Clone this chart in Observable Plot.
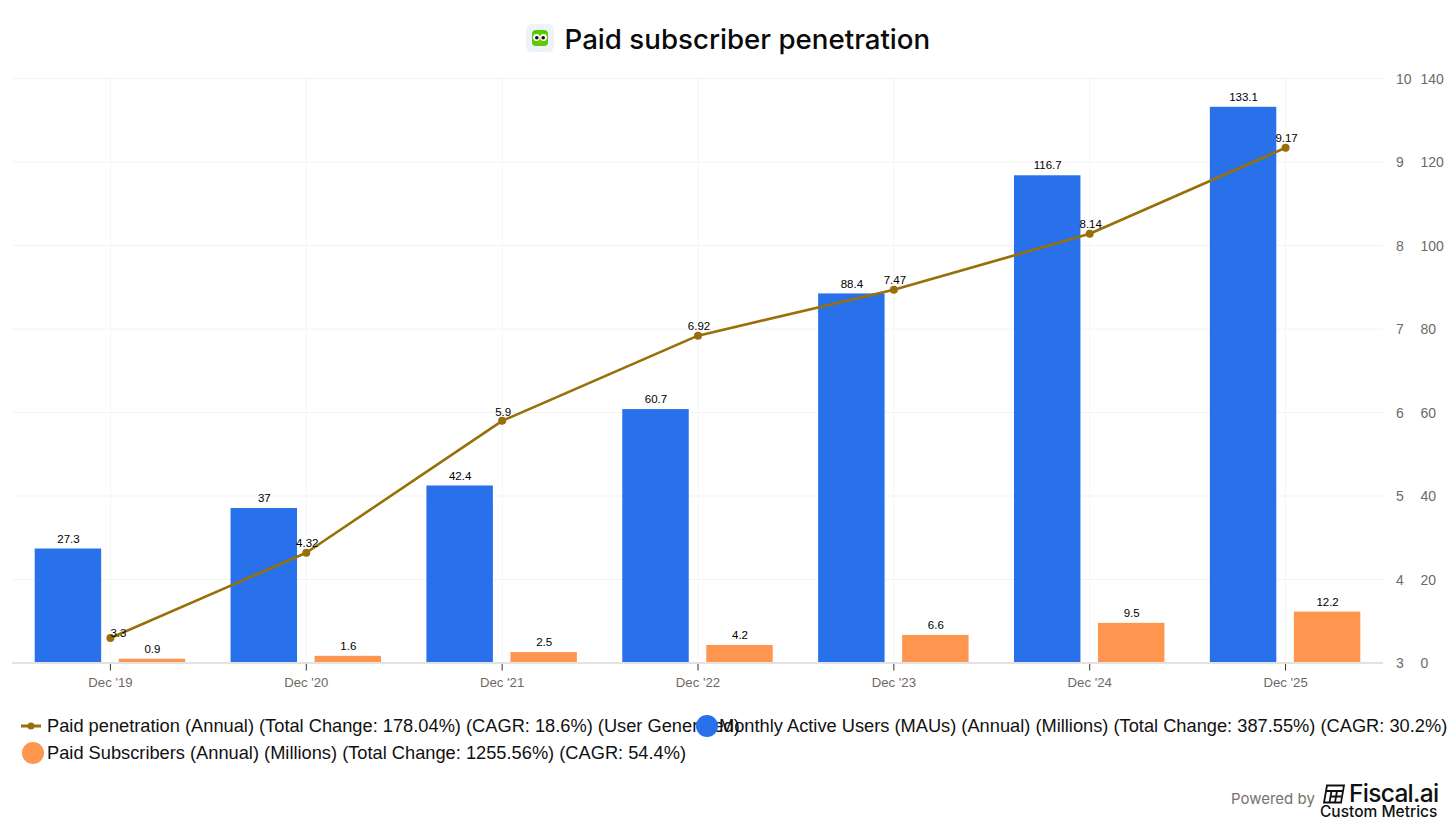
<!DOCTYPE html>
<html>
<head>
<meta charset="utf-8">
<script src="https://cdn.jsdelivr.net/npm/d3@7"></script>
<script src="https://cdn.jsdelivr.net/npm/@observablehq/plot@0.6"></script>
<style>
  html, body { margin: 0; padding: 0; background: #fff; }
  body { width: 1456px; height: 819px; position: relative; overflow: hidden; font-family: "Liberation Sans", Arial, sans-serif; }
  #head { height: 60px; position: relative; }
  #icon { position: absolute; left: 526px; top: 24px; }
  #title { position: absolute; left: 564.5px; top: 21px; font: 500 27.7px/36px Inter, sans-serif; color: #0a0a0a; white-space: nowrap; }
  #chart svg { display: block; }
  .lg { position: absolute; font-size: 18.25px; line-height: 22px; color: #111; white-space: nowrap; }
  .sw { position: absolute; border-radius: 50%; width: 22px; height: 22px; }
  #pw { position: absolute; left: 1231px; top: 790px; font: 15px/18px Inter, sans-serif; color: #77716b; white-space: nowrap; }
  #fi { position: absolute; left: 1349px; top: 782px; font: 500 24.5px/22px Inter, sans-serif; color: #111; white-space: nowrap; letter-spacing: -0.7px; }
  #cm { position: absolute; left: 1320px; top: 804px; font: 500 15.5px/15px Inter, sans-serif; color: #111; white-space: nowrap; }
  #logo { position: absolute; left: 1322px; top: 784px; }
</style>
</head>
<body>
<div id="head">
  <svg id="icon" width="28" height="28" viewBox="0 0 28 28">
    <rect width="28" height="28" rx="6" fill="#eef2fa"/>
    <rect x="6" y="6" width="16" height="16" rx="4" fill="#58cc02"/>
    <circle cx="10.5" cy="13.5" r="3.4" fill="#fff"/><circle cx="17.5" cy="13.5" r="3.4" fill="#fff"/>
    <circle cx="10.8" cy="13.8" r="1.8" fill="#111"/><circle cx="17.2" cy="13.8" r="1.8" fill="#111"/>
    <path d="M12.5 17h3l-1.5 2.4z" fill="#f49000"/>
  </svg>
  <div id="title">Paid subscriber penetration</div>
</div>
<div id="chart"></div>

<svg style="position:absolute;left:21px;top:716px" width="22" height="20" viewBox="0 0 22 20">
  <line x1="0" x2="20" y1="10" y2="10" stroke="#97700a" stroke-width="3"/><circle cx="10" cy="10" r="3.5" fill="#97700a"/>
</svg>
<div class="lg" style="left:47px;top:715px">Paid penetration (Annual) (Total Change: 178.04%) (CAGR: 18.6%) (User Generated)</div>
<div class="sw" style="left:696px;top:715px;background:#2871eb"></div>
<div class="lg" style="left:719px;top:715px">Monthly Active Users (MAUs) (Annual) (Millions) (Total Change: 387.55%) (CAGR: 30.2%)</div>
<div class="sw" style="left:22px;top:742px;background:#ff964f"></div>
<div class="lg" style="left:47px;top:742px">Paid Subscribers (Annual) (Millions) (Total Change: 1255.56%) (CAGR: 54.4%)</div>

<div id="pw">Powered by</div>
<svg id="logo" width="24" height="20" viewBox="0 0 24 20" fill="none" stroke="#111" stroke-width="1.8">
  <path d="M5 1.5h17l-3 17H2z"/><path d="M4 7h17M9.5 7l-2 11.5M15 7l-2 11.5M8 12.5h11"/>
</svg>
<div id="fi">Fiscal.ai</div>
<div id="cm">Custom Metrics</div>

<script>
const periods = ["Dec '19", "Dec '20", "Dec '21", "Dec '22", "Dec '23", "Dec '24", "Dec '25"];
const mau = [27.3, 37, 42.4, 60.7, 88.4, 116.7, 133.1];
const subscribers = [0.9, 1.6, 2.5, 4.2, 6.6, 9.5, 12.2];
const penetration = [3.3, 4.32, 5.9, 6.92, 7.47, 8.14, 9.17];
const mauTicks = [0, 20, 40, 60, 80, 100, 120, 140];

// Penetration runs on its own 3–10 axis, which lines up with the 0–140 axis.
const toMauAxis = (p) => (p - 3) * 20;
const fromMauAxis = (v) => v / 20 + 3;

const rows = periods.map((period, i) => ({
  period, mau: mau[i], subscribers: subscribers[i], penetration: penetration[i],
  penY: toMauAxis(penetration[i])
}));

const BLUE = "#2871eb", ORANGE = "#ff964f", GOLD = "#97700a";
const barInset = 64.7, barShift = 42;

const chart = Plot.plot({
  width: 1456,
  height: 640,
  marginLeft: 12,
  marginRight: 73,
  marginTop: 18,
  marginBottom: 37.5,
  style: { fontFamily: '"Liberation Sans", Arial, sans-serif', background: "#fff", overflow: "visible" },
  x: { type: "band", domain: periods, padding: 0, round: false, label: null },
  y: { domain: [0, 140], label: null },
  marks: [
    Plot.gridY(mauTicks, { stroke: "#f3f3f3", strokeOpacity: 1 }),
    Plot.gridX(periods, { stroke: "#f5f5f5", strokeOpacity: 1 }),
    Plot.axisX({ tickSize: 8, tickPadding: 7, fontSize: 13.2, color: "#6f6963", stroke: "#333", tickFormat: (d) => d }),
    Plot.axisY({ anchor: "right", ticks: mauTicks, tickSize: 0, tickPadding: 37, fontSize: 14, textAnchor: "start", color: "#6f6963", label: null, dy: 1 }),
    Plot.axisY({ anchor: "right", ticks: mauTicks, tickSize: 0, tickPadding: 12.5, fontSize: 14, textAnchor: "start", color: "#6f6963", label: null, dy: 1, tickFormat: fromMauAxis }),
    Plot.barY(rows, { x: "period", y: "mau", fill: BLUE, insetLeft: barInset, insetRight: barInset, dx: -barShift }),
    Plot.barY(rows, { x: "period", y: "subscribers", fill: ORANGE, insetLeft: barInset, insetRight: barInset, dx: barShift }),
    Plot.ruleY([0], { stroke: "#e2e2e2", strokeWidth: 2 }),
    Plot.line(rows, { x: "period", y: "penY", stroke: GOLD, strokeWidth: 2.6 }),
    Plot.dot(rows, { x: "period", y: "penY", r: 4, fill: GOLD }),
    Plot.text(rows, { x: "period", y: "mau", text: "mau", dx: -barShift, dy: -10, fontSize: 11.5, fill: "#000" }),
    Plot.text(rows, { x: "period", y: "subscribers", text: "subscribers", dx: barShift, dy: -10, fontSize: 11.5, fill: "#000" }),
    Plot.text(rows.slice(0, 1), { x: "period", y: "penY", text: "penetration", dx: 8, dy: -5, fontSize: 11.5, fill: "#000" }),
    Plot.text(rows.slice(1), { x: "period", y: "penY", text: "penetration", dx: 1, dy: -9, fontSize: 11.5, fill: "#000" })
  ]
});
document.getElementById("chart").appendChild(chart);
</script>
</body>
</html>
